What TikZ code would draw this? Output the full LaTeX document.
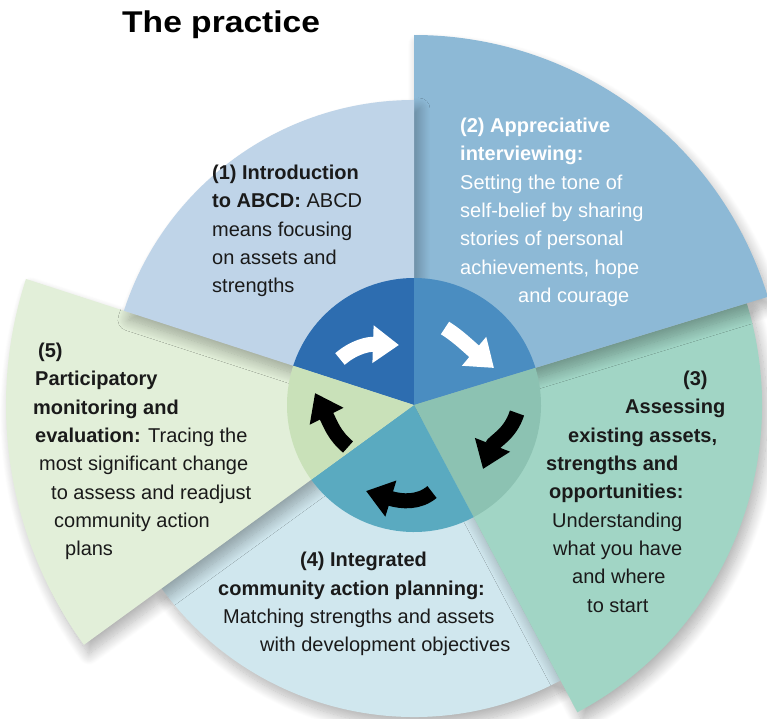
\documentclass[tikz,border=0pt]{standalone}
\usepackage{fontspec}
\setmainfont{Liberation Sans}
\newfontfamily\titlefont[FakeStretch=1.12]{Liberation Sans}
\usetikzlibrary{arrows.meta,shadows.blur}

\definecolor{sectone}{HTML}{BFD4E8}
\definecolor{secttwo}{HTML}{8DB9D6}
\definecolor{sectthree}{HTML}{A1D5C5}
\definecolor{sectfour}{HTML}{D0E7EE}
\definecolor{sectfive}{HTML}{E2EFD9}
\definecolor{hubone}{HTML}{2D6DB0}
\definecolor{hubtwo}{HTML}{4A8DC1}
\definecolor{hubthree}{HTML}{8CC2B2}
\definecolor{hubfour}{HTML}{5AAAC0}
\definecolor{hubfive}{HTML}{C9E1B9}
\definecolor{inkdark}{HTML}{1A1A1A}

\tikzset{
  petal/.style={blur shadow={shadow xshift=5pt, shadow yshift=-9pt, shadow blur radius=11pt,
    shadow blur steps=16, shadow opacity=30}},
  steptext/.style={anchor=north west, inner sep=0pt, align=left, text=inkdark,
    font=\fontsize{20}{28.3}\selectfont},
  whitearrow/.style={line width=15pt, white, -{Triangle[length=26pt,width=36pt]}},
  blackarrow/.style={line width=15pt, black, -{Triangle[length=26pt,width=36pt]}}
}

\begin{document}
\begin{tikzpicture}[x=1pt, y=1pt]
    \useasboundingbox (-414,-313) rectangle (353,405);

    \fill[sectfour, petal] (0,0) -- (-144:312) arc[start angle=-144, end angle=-62, radius=312] -- cycle;
    \fill[sectthree, petal] (0,0) -- (-62:348) arc[start angle=-62, end angle=17, radius=348] -- cycle;
    \fill[sectfive, petal] (0,0) -- (162:408) arc[start angle=162, end angle=216, radius=408] -- cycle;
    \fill[secttwo, petal] (0,0) -- (17:370) arc[start angle=17, end angle=90, radius=370] -- cycle;
    \fill[sectone, petal] (0,0) -- (90:305) arc[start angle=90, end angle=162, radius=305] -- cycle;

    \fill[hubone] (0,0) -- (90:127) arc[start angle=90, end angle=162, radius=127] -- cycle;
    \fill[hubtwo] (0,0) -- (17:127) arc[start angle=17, end angle=90, radius=127] -- cycle;
    \fill[hubthree] (0,0) -- (-62:127) arc[start angle=-62, end angle=17, radius=127] -- cycle;
    \fill[hubfour] (0,0) -- (-144:127) arc[start angle=-144, end angle=-62, radius=127] -- cycle;
    \fill[hubfive] (0,0) -- (162:127) arc[start angle=162, end angle=216, radius=127] -- cycle;

    \draw[whitearrow] (-74,46) .. controls (-60,58) and (-46,61) .. (-15,60);
    \draw[whitearrow] (31,77) .. controls (44,69) and (55,58) .. (80,37);
    \draw[blackarrow] (103,-8) .. controls (96,-30) and (80,-36) .. (69,-64);
    \draw[blackarrow] (18,-87) .. controls (5,-98) and (-12,-97) .. (-48,-86);
    \draw[blackarrow] (-66,-42) .. controls (-80,-30) and (-83,-20) .. (-99,12);

    \node[anchor=base west, inner sep=0pt, font=\titlefont\fontsize{30}{34}\selectfont\bfseries]
        (title) at (-292,372) {The practice};

    \node[steptext] (intro) at (-202,240)
        {\textbf{(1) Introduction}\\ \textbf{to ABCD:} ABCD\\ means focusing\\ on assets and\\ strengths};
    \node[steptext, text=white] (interview) at (46,287)
        {\textbf{(2) Appreciative}\\ \textbf{interviewing:}\\ Setting the tone of\\ self-belief by sharing\\
         stories of personal\\ achievements, hope\\ \hspace*{58pt}and courage};
    \node[steptext] (assess) at (132,34)
        {\hspace*{137pt}\textbf{(3)}\\ \hspace*{79pt}\textbf{Assessing}\\ \hspace*{22pt}\textbf{existing assets,}\\
         \textbf{strengths and}\\ \hspace*{3pt}\textbf{opportunities:}\\ \hspace*{6pt}Understanding\\
         \hspace*{7pt}what you have\\ \hspace*{26pt}and where\\ \hspace*{41pt}to start};
    \node[steptext] (planning) at (-196,-147)
        {\hspace*{82pt}\textbf{(4) Integrated}\\ \textbf{community action planning:}\\
         \hspace*{5pt}Matching strengths and assets\\ \hspace*{42pt}with development objectives};
    \node[steptext] (monitoring) at (-381,62)
        {\hspace*{5pt}\textbf{(5)}\\ \hspace*{2pt}\textbf{Participatory}\\ \textbf{monitoring and}\\
         \hspace*{2pt}\textbf{evaluation:} Tracing the\\ \hspace*{6pt}most significant change\\
         \hspace*{18pt}to assess and readjust\\ \hspace*{21pt}community action\\ \hspace*{32pt}plans};
\end{tikzpicture}
\end{document}
